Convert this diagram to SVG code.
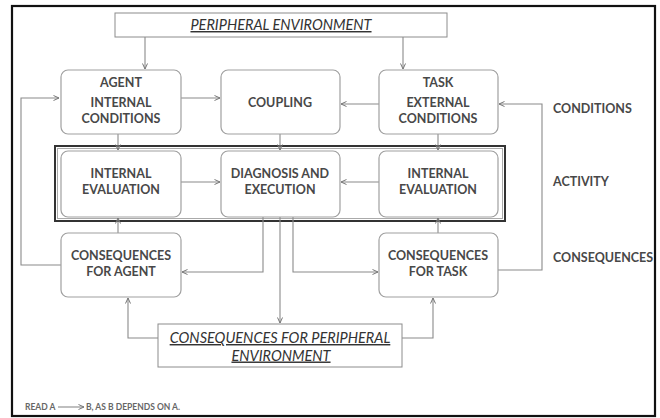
<svg xmlns="http://www.w3.org/2000/svg" width="660" height="418" viewBox="0 0 660 418">
<defs>
<style>
.box{fill:#fff;stroke:#a0a0a0;stroke-width:1.2}
.env{fill:#fff;stroke:#8c8c8c;stroke-width:1}
.t{font-family:Lato,"Open Sans","Liberation Sans",sans-serif;font-size:12.5px;font-weight:700;fill:#484848;text-anchor:middle}
.lab{font-family:Lato,"Open Sans","Liberation Sans",sans-serif;font-size:12.5px;font-weight:700;fill:#484848}
.it{font-family:Lato,"Open Sans","Liberation Sans",sans-serif;font-size:14.5px;font-style:italic;fill:#333;text-anchor:middle;text-decoration:underline}
.c{fill:none;stroke:#8a8a8a;stroke-width:1.1}
.foot{font-family:Lato,"Open Sans","Liberation Sans",sans-serif;font-size:8.5px;font-weight:700;fill:#666}
</style>
<marker id="ah" markerWidth="8" markerHeight="8" refX="6" refY="3" orient="auto" markerUnits="userSpaceOnUse">
<path d="M0.5,0.5 L6,3 L0.5,5.5" fill="none" stroke="#777" stroke-width="1"/>
</marker>
</defs>
<rect x="0" y="0" width="660" height="418" fill="#fff"/>
<rect x="12" y="6" width="643" height="410" fill="none" stroke="#111" stroke-width="2.2"/>

<g id="activity-frame">
<rect x="55" y="146" width="450" height="75" fill="none" stroke="#333" stroke-width="2"/>
<rect x="57.5" y="148.5" width="445" height="70" fill="none" stroke="#aaa" stroke-width="1"/>
</g>

<g id="connectors">
<path class="c" d="M145,37 V69" marker-end="url(#ah)"/>
<path class="c" d="M403,37 V69" marker-end="url(#ah)"/>
<path class="c" d="M181,98 H220" marker-end="url(#ah)"/>
<path class="c" d="M379,104 H341" marker-end="url(#ah)"/>
<path class="c" d="M118,134 V150" marker-end="url(#ah)"/>
<path class="c" d="M280,134 V150" marker-end="url(#ah)"/>
<path class="c" d="M438,134 V150" marker-end="url(#ah)"/>
<path class="c" d="M181,182 H220" marker-end="url(#ah)"/>
<path class="c" d="M379,182 H341" marker-end="url(#ah)"/>
<path class="c" d="M118,233 V218" marker-end="url(#ah)"/>
<path class="c" d="M438,233 V218" marker-end="url(#ah)"/>
<path class="c" d="M263,217 V272 H182" marker-end="url(#ah)"/>
<path class="c" d="M280,217 V323" marker-end="url(#ah)"/>
<path class="c" d="M293,217 V272 H378" marker-end="url(#ah)"/>
<path class="c" d="M61,265 H21 V98 H59" marker-end="url(#ah)"/>
<path class="c" d="M498,270 H542 V104 H499" marker-end="url(#ah)"/>
<path class="c" d="M158,338 H128 V298" marker-end="url(#ah)"/>
<path class="c" d="M402,338 H433 V298" marker-end="url(#ah)"/>
</g>

<g id="peripheral-environment">
<rect class="env" x="115" y="13" width="332" height="24"/>
<text class="it" x="281" y="30">PERIPHERAL ENVIRONMENT</text>
</g>

<g id="agent">
<rect class="box" x="61" y="70" width="120" height="64" rx="7"/>
<text class="t" x="121" y="87">AGENT</text>
<text class="t" x="121" y="107">INTERNAL</text>
<text class="t" x="121" y="122.5">CONDITIONS</text>
</g>

<g id="coupling">
<rect class="box" x="221" y="70" width="119" height="64" rx="7"/>
<text class="t" x="280" y="107">COUPLING</text>
</g>

<g id="task">
<rect class="box" x="379" y="70" width="119" height="64" rx="7"/>
<text class="t" x="438" y="87">TASK</text>
<text class="t" x="438" y="107">EXTERNAL</text>
<text class="t" x="438" y="122.5">CONDITIONS</text>
</g>

<g id="internal-evaluation-agent">
<rect class="box" x="61" y="151" width="120" height="66" rx="7"/>
<text class="t" x="121" y="178">INTERNAL</text>
<text class="t" x="121" y="194">EVALUATION</text>
</g>

<g id="diagnosis-execution">
<rect class="box" x="221" y="151" width="119" height="66" rx="7"/>
<text class="t" x="280" y="178">DIAGNOSIS AND</text>
<text class="t" x="280" y="194">EXECUTION</text>
</g>

<g id="internal-evaluation-task">
<rect class="box" x="379" y="151" width="119" height="66" rx="7"/>
<text class="t" x="438" y="178">INTERNAL</text>
<text class="t" x="438" y="194">EVALUATION</text>
</g>

<g id="consequences-agent">
<rect class="box" x="61" y="233" width="120" height="64" rx="7"/>
<text class="t" x="121" y="260">CONSEQUENCES</text>
<text class="t" x="121" y="275.5">FOR AGENT</text>
</g>

<g id="consequences-task">
<rect class="box" x="379" y="233" width="119" height="64" rx="7"/>
<text class="t" x="438" y="260">CONSEQUENCES</text>
<text class="t" x="438" y="275.5">FOR TASK</text>
</g>

<g id="consequences-peripheral">
<rect class="env" x="158" y="324" width="244" height="43"/>
<text class="it" x="280" y="343">CONSEQUENCES FOR PERIPHERAL</text>
<text class="it" x="281" y="360.5">ENVIRONMENT</text>
</g>

<g id="row-labels">
<text class="lab" x="553" y="113">CONDITIONS</text>
<text class="lab" x="553" y="186">ACTIVITY</text>
<text class="lab" x="553" y="262">CONSEQUENCES</text>
</g>

<g id="legend">
<text class="foot" x="25" y="410">READ A</text>
<path class="c" d="M58,407 H84" marker-end="url(#ah)"/>
<text class="foot" x="86" y="410">B, AS B DEPENDS ON A.</text>
</g>
</svg>
